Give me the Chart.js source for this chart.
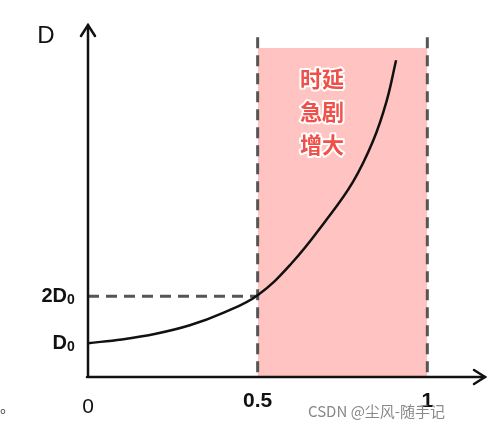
<!DOCTYPE html>
<html><head><meta charset="utf-8">
<script src="https://cdn.jsdelivr.net/npm/chart.js@4"></script>
<style>body{margin:0;background:#fff}#wrap{width:500px;height:430px}</style>
</head><body><div id="wrap"><canvas id="c"></canvas></div>
<script>
// utilization vs delay (D in units of D0)
const curveX = [0, 0.1, 0.2, 0.3, 0.4, 0.5, 0.6, 0.7, 0.78, 0.84, 0.88, 0.908];
const curveY = [1.0, 1.08, 1.2, 1.38, 1.65, 2.02, 2.7, 3.6, 4.42, 5.3, 6.15, 7.02];
const zoneX = [0.5, 1];
const zoneTop = 7.28;
const guideTop = 7.55;
const xTicks = [{ v: 0, t: '0' }, { v: 0.5, t: '0.5' }, { v: 1, t: '1' }];

const pts = (xs, ys) => xs.map((x, i) => ({ x, y: ys[i] }));
const dash = { borderColor: '#555', borderWidth: 3, borderDash: [11, 7], pointRadius: 0, fill: false };

const axesPlugin = {
  id: 'axes',
  afterDraw(chart) {
    const c = chart.ctx, xs = chart.scales.x, ys = chart.scales.y;
    const x0 = xs.getPixelForValue(0), yb = chart.chartArea.bottom;
    const xe = chart.chartArea.right, yt = chart.chartArea.top;
    c.save();
    c.strokeStyle = '#111'; c.lineWidth = 2.5; c.lineCap = 'round';
    c.beginPath(); c.moveTo(x0, yb); c.lineTo(x0, yt); c.moveTo(x0 - 1, yb); c.lineTo(xe, yb); c.stroke();
    c.beginPath(); c.moveTo(x0 - 7, yt + 11); c.lineTo(x0, yt); c.lineTo(x0 + 7, yt + 11);
    c.moveTo(xe - 11, yb - 7); c.lineTo(xe, yb); c.lineTo(xe - 11, yb + 7); c.stroke();
    c.fillStyle = '#111'; c.textAlign = 'center'; c.textBaseline = 'middle';
    c.font = '24px "Liberation Sans", Arial';
    c.fillText('D', 46, 36);
    xTicks.forEach((t) => {
      c.font = (t.v === 0 ? '' : 'bold ') + '21px "Liberation Sans", Arial';
      c.fillText(t.t, xs.getPixelForValue(t.v), t.v === 0 ? 407 : 401);
    });
    // y labels D0 and 2D0
    const lab = (main, yv) => {
      const py = ys.getPixelForValue(yv);
      c.textAlign = 'right'; c.font = 'bold 20px "Liberation Sans", Arial';
      c.fillText(main, 67, py);
      c.textAlign = 'left'; c.font = 'bold 14px "Liberation Sans", Arial';
      c.fillText('0', 67, py + 4);
    };
    lab('D', 1); lab('2D', 2);
    // annotation
    c.font = 'bold 22px "Noto Sans CJK SC"'; c.textAlign = 'center';
    c.lineJoin = 'round'; c.strokeStyle = '#fff'; c.lineWidth = 4; c.fillStyle = '#f0504a';
    ['时延', '急剧', '增大'].forEach((s, i) => { c.strokeText(s, 322, 79 + i * 33); c.fillText(s, 322, 79 + i * 33); });
    c.font = '15px "Noto Sans CJK SC"'; c.fillStyle = '#888'; c.textAlign = 'left';
    c.fillText('CSDN @尘风-随手记', 308, 411);
    c.fillStyle = '#333'; c.fillText('。', 0, 406);
    c.restore();
  }
};

new Chart(document.getElementById('c'), {
  type: 'line',
  data: { datasets: [
    { data: pts(zoneX, [zoneTop, zoneTop]), borderWidth: 0, pointRadius: 0, fill: 'start', backgroundColor: '#ffc4c2', order: 5 },
    { data: pts([0, 0.5], [2, 2]), ...dash, order: 3 },
    { data: pts([0.5, 0.5], [0, guideTop]), ...dash, order: 3 },
    { data: pts([1, 1], [0, guideTop]), ...dash, order: 3 },
    { data: pts(curveX, curveY), borderColor: '#111', borderWidth: 2.5, pointRadius: 0, fill: false, tension: 0.4, order: 1 },
  ] },
  options: {
    responsive: true, maintainAspectRatio: false, animation: false,
    layout: { padding: { left: 88, right: 15, top: 25, bottom: 53 } },
    plugins: { legend: { display: false }, tooltip: { enabled: false } },
    scales: {
      x: { type: 'linear', min: 0, max: 1.17, display: false },
      y: { min: 0.28, max: 7.77, display: false },
    },
  },
  plugins: [axesPlugin],
});
</script></body></html>
